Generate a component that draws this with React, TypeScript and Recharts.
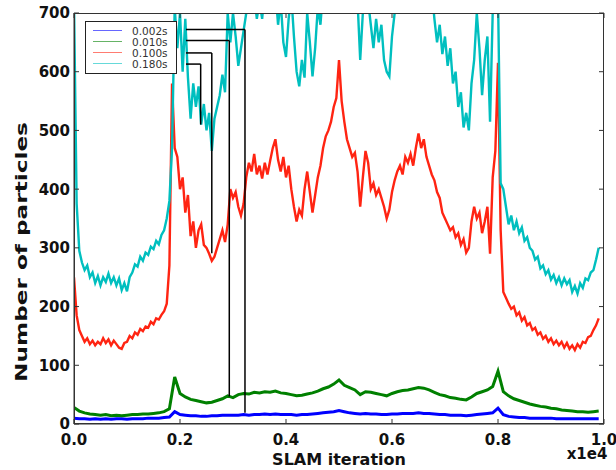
import React from 'react';
import { LineChart, Line, XAxis, YAxis, ReferenceLine, Legend } from 'recharts';

// Series names / colours (legend order)
const seriesNames = ['0.002s', '0.010s', '0.100s', '0.180s'];
const seriesColors = ['#0000ff', '#008000', '#ff2412', '#00bfbf'];

// Axis ticks (x in units of 1e4 SLAM iterations)
const xTicks = [0, 0.2, 0.4, 0.6, 0.8, 1.0];
const yTicks = [0, 100, 200, 300, 400, 500, 600, 700];
const xDomain = [0, 1];
const yDomain = [0, 700];

// sampling steps of the read-off values (x1e4 iterations)
const coarseStep = 0.01;
const fineStep = 0.005;

// 0.002s (blue), every 0.01
const blueVals = [
  10, 9, 9, 8, 9, 8, 9, 8, 9, 9,
  8, 9, 9, 9, 10, 10, 10, 11, 12, 21,
  16, 15, 14, 14, 13, 13, 14, 14, 15, 15,
  15, 15, 16, 15, 16, 16, 17, 16, 17, 16,
  16, 16, 15, 16, 16, 17, 18, 19, 20, 21,
  23, 21, 19, 18, 17, 18, 17, 17, 16, 16,
  17, 17, 18, 18, 18, 19, 18, 18, 17, 16,
  16, 15, 15, 15, 14, 15, 16, 17, 18, 19,
  27, 16, 13, 12, 11, 11, 10, 10, 10, 10,
  10, 9, 9, 9, 9, 9, 9, 9, 9, 9,
];

// 0.010s (green), every 0.01
const greenVals = [
  28, 22, 19, 17, 16, 15, 16, 14, 15, 14,
  15, 16, 16, 17, 17, 18, 19, 21, 26, 80,
  52, 46, 42, 40, 38, 36, 37, 40, 43, 48,
  45, 50, 52, 51, 54, 53, 55, 54, 56, 53,
  52, 50, 48, 49, 51, 53, 56, 60, 63, 68,
  75, 66, 62, 58, 50, 55, 54, 52, 50, 48,
  52, 55, 57, 58, 60, 62, 61, 58, 54, 50,
  48, 45, 44, 42, 41, 46, 52, 55, 58, 64,
  90, 55, 48, 43, 40, 37, 34, 32, 30, 29,
  27, 26, 24, 23, 22, 21, 21, 20, 21, 22,
];

// 0.100s (red), every 0.005
const redVals = [
  250, 185, 160, 150, 140, 146, 136, 142, 134, 140, 136, 146, 138, 144, 134, 142, 136, 130, 128, 138,
  140, 150, 146, 156, 152, 162, 158, 166, 164, 174, 170, 180, 178, 186, 192, 205, 270, 580, 470, 455,
  400, 420, 360, 390, 320, 345, 300, 330, 340, 305, 300, 290, 278, 285, 300, 315, 330, 310, 340, 400,
  385, 395, 370, 355, 375, 420, 445, 430, 460, 425, 440, 418, 445, 425, 448, 470, 485, 450, 430, 455,
  420, 440, 400, 370, 345, 365, 355, 400, 430, 395, 360, 390, 420, 440, 470, 490, 500, 515, 540, 555,
  620, 550, 515, 485, 470, 455, 462, 430, 370, 420, 465, 445, 400, 410, 390, 400, 385, 370, 350, 365,
  395, 415, 430, 440, 425, 455, 445, 460, 440, 470, 495, 470, 485, 455, 440, 425, 415, 395, 385, 360,
  350, 340, 330, 335, 318, 325, 305, 315, 292, 300, 345, 370, 350, 360, 325, 345, 370, 290, 420, 465,
  615, 330, 225, 215, 205, 196, 200, 185, 190, 176, 182, 168, 172, 160, 164, 152, 156, 145, 150, 140,
  146, 136, 142, 134, 140, 130, 138, 128, 134, 126, 136, 130, 140, 138, 148, 150, 160, 168, 180,
];

// 0.180s (cyan), every 0.005
const cyanVals = [
  720, 375, 295, 275, 262, 270, 250, 258, 240, 252, 236, 250, 242, 256, 240, 250, 236, 248, 228, 240,
  226, 250, 258, 272, 268, 285, 278, 292, 288, 302, 298, 312, 306, 322, 330, 350, 380, 470, 710, 640,
  700, 600, 690, 590, 520, 580, 540, 575, 510, 545, 500, 530, 465, 520, 540, 560, 595, 565, 700, 650,
  700, 660, 610, 640, 670, 700, 740, 700, 730, 690, 720, 690, 740, 710, 740, 700, 740, 680, 720, 650,
  625, 690, 730, 660, 600, 575, 620, 590, 700, 650, 592, 640, 710, 680, 740, 740, 740, 740, 740, 740,
  740, 740, 740, 740, 740, 740, 740, 720, 620, 700, 730, 720, 680, 640, 690, 650, 680, 620, 600, 592,
  660, 700, 740, 740, 740, 740, 740, 740, 740, 740, 740, 740, 740, 740, 740, 740, 690, 650, 680, 630,
  660, 610, 640, 580, 600, 540, 565, 505, 530, 500, 580, 620, 700, 640, 560, 620, 660, 515, 700, 720,
  730, 410, 400, 370, 340, 355, 330, 345, 325, 335, 312, 318, 300, 295, 280, 285, 265, 270, 255, 262,
  246, 254, 240, 250, 236, 248, 238, 245, 225, 235, 222, 240, 232, 248, 245, 258, 262, 280, 300,
];

// Annotation brackets from legend to curves (data units)
const annotStartX = 0.2113;
const annotX = [0.3226, 0.293, 0.26, 0.239];
const annotY = [672, 653, 632, 613];
const annotEnd = [19, 47, 291, 510];

const toPoints = (vals: number[], step: number) =>
  vals.map((v, i) => ({ x: Math.round(i * step * 1000) / 1000, y: v }));

const seriesData = [
  toPoints(blueVals, coarseStep),
  toPoints(greenVals, coarseStep),
  toPoints(redVals, fineStep),
  toPoints(cyanVals, fineStep),
];
const strokeWidths = [3, 3, 2.4, 2.4];

const FONT = 'DejaVu Sans';
const FRAME = '#333';
const TICK_LEN = 5;
const X_MARGIN = 10;
const Y_MARGIN = 4;

// chart layout
const W = 616;
const H = 470;
const MARGIN = { top: 13, right: 12, left: 24, bottom: 10 };
const Y_AXIS_W = 50;
const X_AXIS_H = 36;
const PLOT = {
  left: MARGIN.left + Y_AXIS_W,
  top: MARGIN.top,
  right: W - MARGIN.right,
  bottom: H - MARGIN.bottom - X_AXIS_H,
};

const BottomTick = (props: any) => {
  const { x, y, payload } = props;
  return (
    <g>
      <line x1={x} x2={x} y1={y - X_MARGIN} y2={y - X_MARGIN - TICK_LEN} stroke={FRAME} strokeWidth={1} />
      <line x1={x} x2={x} y1={PLOT.top} y2={PLOT.top + TICK_LEN} stroke={FRAME} strokeWidth={1} />
      <text x={x} y={y} dy="0.71em" textAnchor="middle" fontFamily={FONT} fontWeight="bold" fontSize={15} fill="#111">
        {Number(payload.value).toFixed(1)}
      </text>
    </g>
  );
};

const LeftTick = (props: any) => {
  const { x, y, payload } = props;
  return (
    <g>
      <line x1={x + Y_MARGIN} x2={x + Y_MARGIN + TICK_LEN} y1={y} y2={y} stroke={FRAME} strokeWidth={1} />
      <line x1={PLOT.right} x2={PLOT.right - TICK_LEN} y1={y} y2={y} stroke={FRAME} strokeWidth={1} />
      <text x={x} y={y} dy="0.36em" textAnchor="end" fontFamily={FONT} fontWeight="bold" fontSize={15} fill="#111">
        {payload.value}
      </text>
    </g>
  );
};

const LegendBox = () => (
  <div
    style={{
      width: 92,
      height: 53,
      boxSizing: 'border-box',
      border: '1px solid #222',
      background: '#fff',
      paddingTop: 3,
      fontFamily: FONT,
      fontSize: 10.5,
      color: '#333',
    }}
  >
    {seriesNames.map((n, i) => (
      <div key={n} style={{ height: 11.1, display: 'flex', alignItems: 'center' }}>
        <div style={{ marginLeft: 7, width: 29, height: 1, background: seriesColors[i], opacity: 0.6 }} />
        <div style={{ marginLeft: 10, lineHeight: '10px' }}>{n}</div>
      </div>
    ))}
  </div>
);

export default function App() {
  return (
    <div style={{ position: 'absolute', left: 0, top: 0, width: W, height: H, background: '#fff' }}>
      <LineChart width={W} height={H} margin={MARGIN}>
        <XAxis
          type="number"
          dataKey="x"
          domain={xDomain}
          ticks={xTicks}
          allowDataOverflow
          height={X_AXIS_H}
          tickSize={0}
          tickLine={false}
          tickMargin={X_MARGIN}
          tick={<BottomTick />}
          stroke={FRAME}
          interval={0}
        />
        <YAxis
          type="number"
          domain={yDomain}
          ticks={yTicks}
          allowDataOverflow
          width={Y_AXIS_W}
          tickSize={0}
          tickLine={false}
          tickMargin={Y_MARGIN}
          tick={<LeftTick />}
          stroke={FRAME}
          interval={0}
        />
        {seriesData.map((d, i) => (
          <Line
            key={seriesNames[i]}
            data={d}
            dataKey="y"
            name={seriesNames[i]}
            stroke={seriesColors[i]}
            strokeWidth={strokeWidths[i]}
            dot={false}
            activeDot={false}
            type="linear"
            isAnimationActive={false}
          />
        ))}
        {annotX.map((ax, i) => (
          <ReferenceLine
            key={'h' + i}
            segment={[
              { x: annotStartX, y: annotY[i] },
              { x: ax, y: annotY[i] },
            ]}
            stroke="#000"
            strokeWidth={1.5}
            ifOverflow="visible"
          />
        ))}
        {annotX.map((ax, i) => (
          <ReferenceLine
            key={'v' + i}
            segment={[
              { x: ax, y: annotY[i] },
              { x: ax, y: annotEnd[i] },
            ]}
            stroke="#000"
            strokeWidth={1.5}
            ifOverflow="visible"
          />
        ))}
        <Legend
          layout="horizontal"
          verticalAlign="middle"
          align="center"
          wrapperStyle={{ left: 85, top: 21, width: 92, height: 53 }}
          content={() => <LegendBox />}
        />
      </LineChart>
      <div
        style={{
          position: 'absolute',
          left: PLOT.left,
          top: PLOT.top,
          width: PLOT.right - PLOT.left,
          height: PLOT.bottom - PLOT.top,
          boxSizing: 'border-box',
          border: `1px solid ${FRAME}`,
          pointerEvents: 'none',
        }}
      />
      <svg
        width={W}
        height={H}
        style={{ position: 'absolute', left: 0, top: 0, pointerEvents: 'none' }}
      >
        <text
          transform="translate(27,252) rotate(-90) scale(1.45,1)"
          textAnchor="middle"
          fontFamily={FONT}
          fontWeight="bold"
          fontSize={16}
          fill="#111"
        >
          Number of particles
        </text>
        <text x={339} y={465} textAnchor="middle" fontFamily={FONT} fontWeight="bold" fontSize={16} fill="#111">
          SLAM iteration
        </text>
        <text x={587} y={459} textAnchor="middle" fontFamily={FONT} fontWeight="bold" fontSize={15} fill="#111">
          x1e4
        </text>
      </svg>
    </div>
  );
}
